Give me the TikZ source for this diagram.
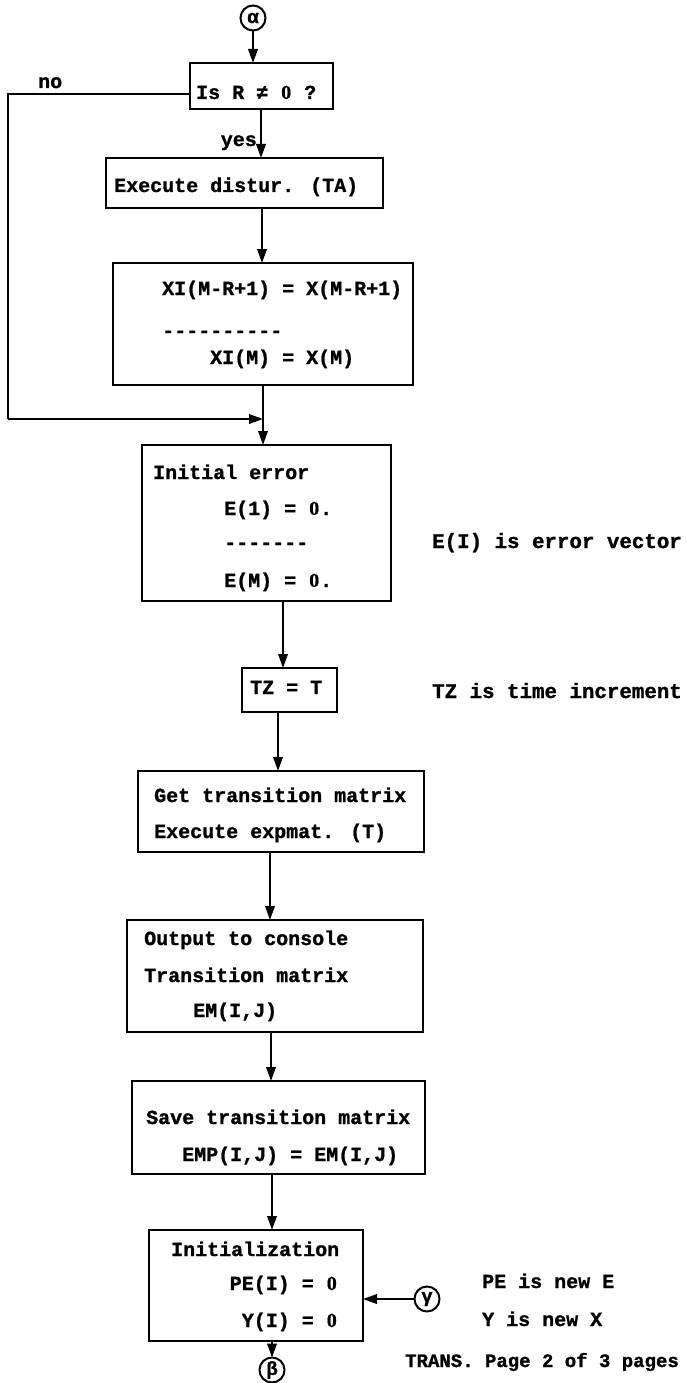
\documentclass[tikz,border=0pt]{standalone}
\usepackage{fontspec}
\setmainfont{Liberation Mono}[BoldFeatures={FakeBold=1.2}]
\newfontfamily\serz{Liberation Serif}[BoldFeatures={FakeBold=0.6}]
\usetikzlibrary{arrows.meta}
\newcommand{\dsh}[1]{\foreach \i in {1,...,#1}{\mbox{-}}}
\newcommand{\zr}{\makebox[0.6em]{\serz 0}}
\begin{document}
\begin{tikzpicture}[x=1pt,y=-1pt,
  box/.style={draw, line width=2pt, inner sep=0pt, outer sep=0pt, rectangle},
  txt/.style={anchor=base west, inner sep=0pt, font=\fontsize{20}{22}\selectfont\bfseries},
  txtw/.style={txt, font=\fontsize{20.8}{22}\selectfont\bfseries},
  txts/.style={txt, font=\fontsize{19}{22}\selectfont\bfseries},
  txtr/.style={txt, anchor=base east},
  arr/.style={line width=2pt, -{Triangle[length=14pt,width=9.5pt]}},
  ln/.style={line width=2pt},
  conn/.style={circle, draw, line width=2pt, minimum size=25pt, inner sep=0pt, outer sep=0pt, font=\fontsize{19}{19}\selectfont\bfseries}]
\useasboundingbox (0,0) rectangle (686,1383);
\fill[white] (0,0) rectangle (686,1383);

% connectors (circles)
\node[conn] (alpha) at (253,18) {α};
\node[conn] (beta) at (272,1370) {β};
\node[conn] (gamma) at (427,1299) {γ};

% boxes
\node[box, minimum width=143pt, minimum height=46pt] (b1) at (261.5,86) {};
\node[box, minimum width=277pt, minimum height=50pt] (b2) at (244.5,183) {};
\node[box, minimum width=300pt, minimum height=122pt] (b3) at (263,324) {};
\node[box, minimum width=249pt, minimum height=156pt] (b4) at (266.5,523) {};
\node[box, minimum width=95pt, minimum height=44pt] (b5) at (289.5,690) {};
\node[box, minimum width=286pt, minimum height=81pt] (b6) at (281,811.5) {};
\node[box, minimum width=296pt, minimum height=112pt] (b7) at (275,976) {};
\node[box, minimum width=293pt, minimum height=93pt] (b8) at (278.5,1127.5) {};
\node[box, minimum width=214pt, minimum height=111pt] (b9) at (256,1285.5) {};

% texts
\node[txt] (t1) at (196,99) {Is R ≠ \zr{} ?};
\node[txt] (tno) at (38,88) {no};
\node[txtr] (tyes) at (257,146) {yes};
\node[txt] (t2) at (114,192) {Execute distur. (TA)};
\node[txt] (t3a) at (162,295) {XI(M-R+1) = X(M-R+1)};
\node[txt] (t3b) at (162,337) {\dsh{10}};
\node[txt] (t3c) at (210,364) {XI(M) = X(M)};
\node[txt] (t4a) at (153,479) {Initial error};
\node[txt] (t4b) at (224,515) {E(1) = \zr.};
\node[txt] (t4c) at (224,549) {\dsh{7}};
\node[txt] (t4d) at (224,587) {E(M) = \zr.};
\node[txtw] (n1) at (432,548) {E(I) is error vector};
\node[txt] (t5) at (250,694) {TZ = T};
\node[txtw] (n2) at (432,698) {TZ is time increment};
\node[txt] (t6a) at (154,802) {Get transition matrix};
\node[txt] (t6b) at (154,838) {Execute expmat. (T)};
\node[txt] (t7a) at (144,945) {Output to console};
\node[txt] (t7b) at (144,982) {Transition matrix};
\node[txt] (t7c) at (193,1017) {EM(I,J)};
\node[txt] (t8a) at (146,1124) {Save transition matrix};
\node[txt] (t8b) at (182,1161) {EMP(I,J) = EM(I,J)};
\node[txt] (t9a) at (171,1256) {Initialization};
\node[txtr] (t9b) at (338,1290) {PE(I) = \zr};
\node[txtr] (t9c) at (338,1327) {Y(I) = \zr};
\node[txt] (n3) at (482,1288) {PE is new E};
\node[txt] (n4) at (482,1326) {Y is new X};
\node[txts] (n5) at (405,1367) {TRANS. Page 2 of 3 pages};

% helper coordinates for vertical connector lines
\coordinate (xa) at (253,0);
\coordinate (x12) at (261,0);
\coordinate (x23) at (262,0);
\coordinate (x34) at (263,0);
\coordinate (x45) at (283,0);
\coordinate (x56) at (278,0);
\coordinate (x67) at (270,0);
\coordinate (x78) at (271,0);
\coordinate (x89) at (272,0);
\coordinate (nl) at (8,94);
\coordinate (nb) at (8,419);
\coordinate (mj) at (263,419);

% connectors
\draw[arr] (alpha.south -| xa) -- (b1.north -| xa);
\draw[arr] (b1.south -| x12) -- (b2.north -| x12);
\draw[arr] (b2.south -| x23) -- (b3.north -| x23);
\draw[arr] (b3.south -| x34) -- (b4.north -| x34);
\draw[ln] (b1.west |- nl) -- (nl) -- (nb);
\draw[arr] (nb) -- (mj);
\draw[arr] (b4.south -| x45) -- (b5.north -| x45);
\draw[arr] (b5.south -| x56) -- (b6.north -| x56);
\draw[arr] (b6.south -| x67) -- (b7.north -| x67);
\draw[arr] (b7.south -| x78) -- (b8.north -| x78);
\draw[arr] (b8.south -| x89) -- (b9.north -| x89);
\draw[arr] (b9.south -| x89) -- (beta.north);
\draw[arr] (gamma.west) -- (b9.east |- gamma.west);
\end{tikzpicture}
\end{document}
